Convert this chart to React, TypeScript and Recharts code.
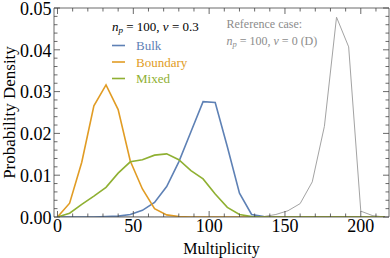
import { LineChart, Line, XAxis, YAxis, Legend, Label } from 'recharts';

// bin centres (multiplicity) and the probability density of each series
const multiplicity = [0, 8, 16, 24, 32, 40, 48, 56, 64, 72, 80, 88, 96, 104, 112, 120, 128, 136, 144, 152, 160, 168, 176, 184, 192, 200, 208, 216];
const bulk = [0, 0, 0, 0, 0.0001, 0.0002, 0.0006, 0.0016, 0.0035, 0.0073, 0.0132, 0.0204, 0.0276, 0.0274, 0.0168, 0.0057, 0.0006, 0.0001, 0, 0, 0, 0, 0, 0, 0, 0, 0, 0];
const boundary = [0, 0.0033, 0.0131, 0.0266, 0.0316, 0.0257, 0.0134, 0.0067, 0.002, 0.0005, 0.0001, 0, 0, 0, 0, 0, 0, 0, 0, 0, 0, 0, 0, 0, 0, 0, 0, 0];
const mixed = [0, 0.0009, 0.003, 0.005, 0.0071, 0.0105, 0.0132, 0.0137, 0.0148, 0.0151, 0.0137, 0.0111, 0.0091, 0.0055, 0.0023, 0.0006, 0.0001, 0, 0, 0, 0, 0, 0, 0, 0, 0, 0, 0];
const reference = [0, 0, 0, 0, 0, 0, 0, 0, 0, 0, 0, 0, 0, 0, 0, 0, 0, 0.0001, 0.0006, 0.0015, 0.0032, 0.0084, 0.0217, 0.0478, 0.0407, 0.0014, 0.0003, 0];

const xTicks = [0, 10, 20, 30, 40, 50, 60, 70, 80, 90, 100, 110, 120, 130, 140, 150, 160, 170, 180, 190, 200, 210];
const xLabelled = [0, 50, 100, 150, 200];
const yTicks = [0, 0.002, 0.004, 0.006, 0.008, 0.01, 0.012, 0.014, 0.016, 0.018, 0.02, 0.022, 0.024, 0.026, 0.028, 0.03, 0.032, 0.034, 0.036, 0.038, 0.04, 0.042, 0.044, 0.046, 0.048, 0.05];
const yLabelled = [0, 0.01, 0.02, 0.03, 0.04, 0.05];

const legendOrder = ['bulk', 'boundary', 'mixed'];

const rows = multiplicity.map((x, i) => ({
  x,
  bulk: bulk[i],
  boundary: boundary[i],
  mixed: mixed[i],
  reference: reference[i],
}));

const FONT = '"Liberation Serif", "Times New Roman", serif';
const FRAME = '#444';
const BLUE = '#5E81B5';
const ORANGE = '#E19C24';
const GREEN = '#8FB032';
const GREY = '#a3a3a3';

const isMajor = (v: number, list: number[]) => list.some((m) => Math.abs(m - v) < 1e-9);

// ticks point into the frame on all four sides
const BottomTick = (props: any) => {
  const { x, y, payload } = props;
  const major = isMajor(payload.value, xLabelled);
  return (
    <g>
      <line x1={x} x2={x} y1={y} y2={y - (major ? 6 : 3.5)} stroke={FRAME} strokeWidth={0.8} />
      {major && (
        <text x={x} y={y + 14.5} textAnchor="middle" fontSize={18} fontFamily={FONT} fill="#000">
          {payload.value}
        </text>
      )}
    </g>
  );
};

const TopTick = (props: any) => {
  const { x, y, payload } = props;
  const major = isMajor(payload.value, xLabelled);
  return <line x1={x} x2={x} y1={y} y2={y + (major ? 6 : 3.5)} stroke={FRAME} strokeWidth={0.8} />;
};

const LeftTick = (props: any) => {
  const { x, y, payload } = props;
  const major = isMajor(payload.value, yLabelled);
  return (
    <g>
      <line x1={x} x2={x + (major ? 6 : 3.5)} y1={y} y2={y} stroke={FRAME} strokeWidth={0.8} />
      {major && (
        <text x={x - 2.5} y={y + 6.8} textAnchor="end" fontSize={18} fontFamily={FONT} fill="#000">
          {payload.value.toFixed(2)}
        </text>
      )}
    </g>
  );
};

const RightTick = (props: any) => {
  const { x, y, payload } = props;
  const major = isMajor(payload.value, yLabelled);
  return <line x1={x} x2={x - (major ? 6 : 3.5)} y1={y} y2={y} stroke={FRAME} strokeWidth={0.8} />;
};

const legendHeader = { np: '100', nu: '0.3' };
const referenceTitle = 'Reference case:';
const referenceParams = { np: '100', nu: '0 (D)' };

const LegendBox = (props: any) => {
  const items = legendOrder
    .map((k) => (props.payload || []).find((p: any) => p.dataKey === k))
    .filter(Boolean);
  return (
    <svg width={390} height={100} style={{ display: 'block' }}>
      <text x={112} y={30.5} fontSize={13} fontFamily={FONT} fill="#000">
        <tspan fontStyle="italic">n</tspan>
        <tspan fontStyle="italic" fontSize={9} dy={2.5}>p</tspan>
        <tspan dy={-2.5}>{` = ${legendHeader.np}, `}</tspan>
        <tspan fontStyle="italic">ν</tspan>
        <tspan>{` = ${legendHeader.nu}`}</tspan>
      </text>
      {items.map((it: any, i: number) => (
        <g key={it.value}>
          <line x1={112} x2={125} y1={45.5 + i * 16.5} y2={45.5 + i * 16.5} stroke={it.color} strokeWidth={1.6} />
          <text x={136} y={50.3 + i * 16.5} fontSize={13} fontFamily={FONT} fill={it.color}>
            {it.value}
          </text>
        </g>
      ))}
      <text x={226.5} y={28.3} fontSize={12} fontFamily={FONT} fill="#8c8c8c">
        {referenceTitle}
      </text>
      <text x={226.5} y={44.5} fontSize={12} fontFamily={FONT} fill="#8c8c8c">
        <tspan fontStyle="italic">n</tspan>
        <tspan fontStyle="italic" fontSize={8.5} dy={2.3}>p</tspan>
        <tspan dy={-2.3}>{` = ${referenceParams.np}, `}</tspan>
        <tspan fontStyle="italic">ν</tspan>
        <tspan>{` = ${referenceParams.nu}`}</tspan>
      </text>
    </svg>
  );
};

export default function App() {
  return (
    <div style={{ position: 'absolute', left: 0, top: 0 }}>
      <LineChart width={390} height={258} data={rows} margin={{ top: 7, right: 0, bottom: 0, left: 0 }}>
        <XAxis
          dataKey="x"
          type="number"
          domain={[-2.3, 218.6]}
          allowDataOverflow
          ticks={xTicks}
          interval={0}
          tick={<BottomTick />}
          tickLine={false}
          tickSize={0}
          tickMargin={0}
          height={41}
          axisLine={{ stroke: FRAME, strokeWidth: 0.8 }}
        >
          <Label
            content={(p: any) => {
              const vb = p.viewBox;
              return (
                <text x={vb.x + vb.width / 2} y={vb.y + 37} textAnchor="middle" fontSize={16} fontFamily={FONT} fill="#000">
                  Multiplicity
                </text>
              );
            }}
          />
        </XAxis>
        <XAxis
          xAxisId="top"
          orientation="top"
          dataKey="x"
          type="number"
          domain={[-2.3, 218.6]}
          allowDataOverflow
          ticks={xTicks}
          interval={0}
          tick={<TopTick />}
          tickLine={false}
          tickSize={0}
          tickMargin={0}
          height={1}
          axisLine={{ stroke: FRAME, strokeWidth: 0.8 }}
        />
        <YAxis
          type="number"
          domain={[0, 0.05]}
          allowDataOverflow
          ticks={yTicks}
          interval={0}
          tick={<LeftTick />}
          tickLine={false}
          tickSize={0}
          tickMargin={0}
          width={54}
          axisLine={{ stroke: FRAME, strokeWidth: 0.8 }}
        >
          <Label
            content={(p: any) => {
              const vb = p.viewBox;
              const cy = vb.y + vb.height / 2;
              return (
                <text
                  x={15}
                  y={cy}
                  transform={`rotate(-90 15 ${cy})`}
                  textAnchor="middle"
                  fontSize={17}
                  fontFamily={FONT}
                  fill="#000"
                >
                  Probability Density
                </text>
              );
            }}
          />
        </YAxis>
        <YAxis
          yAxisId="right"
          orientation="right"
          type="number"
          domain={[0, 0.05]}
          allowDataOverflow
          ticks={yTicks}
          interval={0}
          tick={<RightTick />}
          tickLine={false}
          tickSize={0}
          tickMargin={0}
          width={1}
          axisLine={{ stroke: FRAME, strokeWidth: 0.8 }}
        />
        <Legend
          layout="vertical"
          align="center"
          verticalAlign="middle"
          content={<LegendBox />}
          wrapperStyle={{ left: 0, top: 0, width: 390, height: 100, pointerEvents: 'none' }}
        />
        <Line type="linear" dataKey="reference" name="Reference" stroke={GREY} strokeWidth={1} dot={false} isAnimationActive={false} />
        <Line type="linear" dataKey="bulk" name="Bulk" stroke={BLUE} strokeWidth={1.6} dot={false} isAnimationActive={false} />
        <Line type="linear" dataKey="boundary" name="Boundary" stroke={ORANGE} strokeWidth={1.6} dot={false} isAnimationActive={false} />
        <Line type="linear" dataKey="mixed" name="Mixed" stroke={GREEN} strokeWidth={1.6} dot={false} isAnimationActive={false} />
      </LineChart>
    </div>
  );
}
